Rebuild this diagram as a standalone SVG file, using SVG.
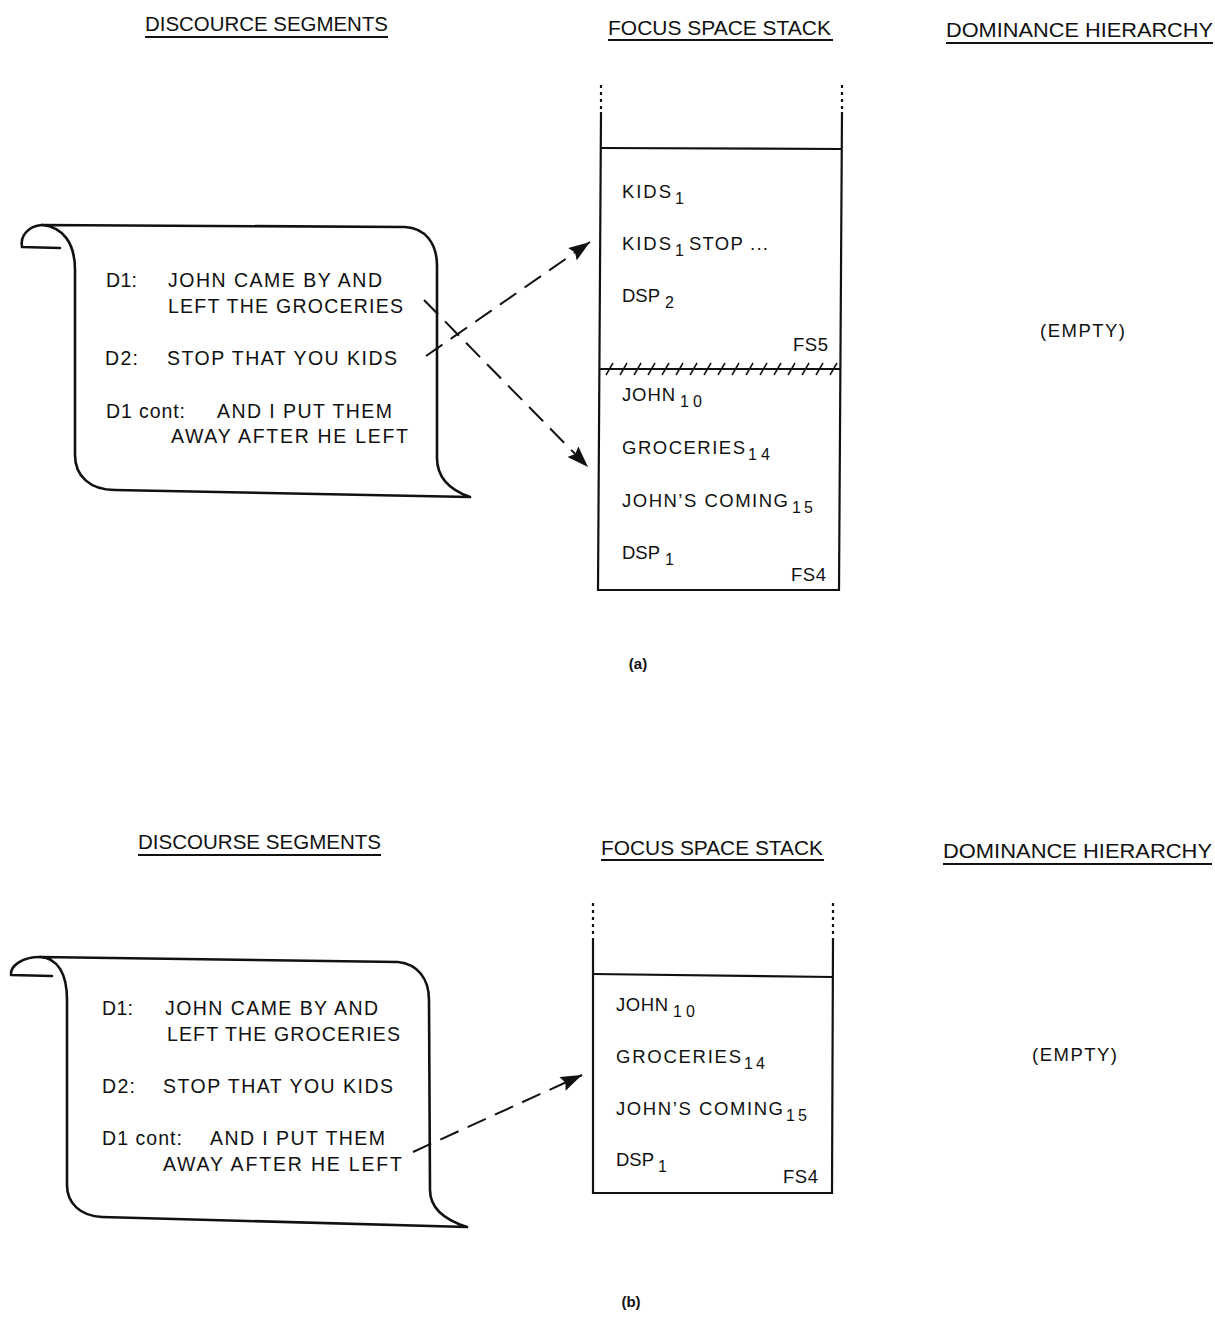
<svg xmlns="http://www.w3.org/2000/svg" width="1215" height="1318" viewBox="0 0 1215 1318">
<style>
text{font-family:"Liberation Sans",Arial,sans-serif;fill:#111}
.h{font-size:20.5px}
.s{font-size:19.5px}
.t{font-size:18.5px}
.sub{font-size:16px}
.lbl{font-size:15px;font-weight:bold}
.ul{stroke:#111;stroke-width:2}
.scroll{fill:none;stroke:#111;stroke-width:2.6;stroke-linejoin:round;stroke-linecap:round}
.wall{stroke:#111;stroke-width:2.2;fill:none}
.dots{stroke:#111;stroke-width:2.2;stroke-dasharray:3 4}
.hatch{stroke:#111;stroke-width:1.5}
.conn{stroke:#111;stroke-width:2;fill:none;stroke-dasharray:20 10}
</style>
<defs>
<marker id="ah" viewBox="0 0 20 14" refX="20" refY="7" markerWidth="22" markerHeight="15" markerUnits="userSpaceOnUse" orient="auto">
<path d="M0,0 L20,7 L0,14 L3,7 z" fill="#111"/>
</marker>
</defs>

<!-- ===== (a) ===== -->
<g id="headers-a">
<text class="h" x="145" y="31" textLength="243" lengthAdjust="spacingAndGlyphs">DISCOURCE SEGMENTS</text>
<line class="ul" x1="145" y1="37" x2="388" y2="37"/>
<text class="h" x="608" y="35" textLength="223" lengthAdjust="spacingAndGlyphs">FOCUS SPACE STACK</text>
<line class="ul" x1="608" y1="40" x2="833" y2="40"/>
<text class="h" x="946" y="37" textLength="267" lengthAdjust="spacingAndGlyphs">DOMINANCE HIERARCHY</text>
<line class="ul" x1="946" y1="43" x2="1213" y2="43"/>
</g>

<g id="scroll-a">
<path class="scroll" d="M42 225 L405 227 C425 228 437 243 437 266 L437 458 C437 478 450 490 470 497 L115 490 C90 490 75 476 75 455 L75 270 C75 243 63 227 42 225 Z"/>
<path class="scroll" d="M42 225 C28 226 20 236 22 247 L60 248"/>
<text class="s" x="106" y="287" textLength="31" lengthAdjust="spacing">D1:</text>
<text class="s" x="168" y="287" textLength="214" lengthAdjust="spacing">JOHN CAME BY AND</text>
<text class="s" x="168" y="313" textLength="235" lengthAdjust="spacing">LEFT THE GROCERIES</text>
<text class="s" x="105" y="365" textLength="33" lengthAdjust="spacing">D2:</text>
<text class="s" x="167" y="365" textLength="230" lengthAdjust="spacing">STOP THAT YOU KIDS</text>
<text class="s" x="106" y="418" textLength="79" lengthAdjust="spacing">D1 cont:</text>
<text class="s" x="217" y="418" textLength="175" lengthAdjust="spacing">AND I PUT THEM</text>
<text class="s" x="171" y="443" textLength="237" lengthAdjust="spacing">AWAY AFTER HE LEFT</text>
</g>

<g id="stack-a">
<line class="dots" x1="601" y1="85" x2="601" y2="112"/>
<line class="dots" x1="842" y1="85" x2="842" y2="112"/>
<path class="wall" d="M601 112 L598 590 L839 590 L842 112"/>
<line class="wall" x1="600" y1="148" x2="841" y2="149"/>
<line class="wall" x1="599" y1="369" x2="840" y2="369"/>
<g class="hatch">
<line x1="606" y1="375" x2="613" y2="363"/><line x1="620" y1="375" x2="627" y2="363"/><line x1="634" y1="375" x2="641" y2="363"/><line x1="648" y1="375" x2="655" y2="363"/><line x1="662" y1="375" x2="669" y2="363"/><line x1="676" y1="375" x2="683" y2="363"/><line x1="690" y1="375" x2="697" y2="363"/><line x1="704" y1="375" x2="711" y2="363"/><line x1="718" y1="375" x2="725" y2="363"/><line x1="732" y1="375" x2="739" y2="363"/><line x1="746" y1="375" x2="753" y2="363"/><line x1="760" y1="375" x2="767" y2="363"/><line x1="774" y1="375" x2="781" y2="363"/><line x1="788" y1="375" x2="795" y2="363"/><line x1="802" y1="375" x2="809" y2="363"/><line x1="816" y1="375" x2="823" y2="363"/><line x1="830" y1="375" x2="837" y2="363"/>
</g>
<text class="t" x="622" y="198" textLength="49" lengthAdjust="spacing">KIDS</text>
<text class="sub" x="675" y="204">1</text>
<text class="t" x="622" y="250" textLength="49" lengthAdjust="spacing">KIDS</text>
<text class="sub" x="675" y="256">1</text>
<text class="t" x="689" y="250" textLength="79" lengthAdjust="spacing">STOP ...</text>
<text class="t" x="622" y="302" textLength="38" lengthAdjust="spacing">DSP</text>
<text class="sub" x="665" y="308">2</text>
<text class="t" x="793" y="351" textLength="35" lengthAdjust="spacing">FS5</text>
<text class="t" x="622" y="401" textLength="53" lengthAdjust="spacing">JOHN</text>
<text class="sub" x="680" y="407" textLength="22" lengthAdjust="spacing">10</text>
<text class="t" x="622" y="454" textLength="123" lengthAdjust="spacing">GROCERIES</text>
<text class="sub" x="748" y="460" textLength="22" lengthAdjust="spacing">14</text>
<text class="t" x="622" y="507" textLength="166" lengthAdjust="spacing">JOHN’S COMING</text>
<text class="sub" x="792" y="513" textLength="21" lengthAdjust="spacing">15</text>
<text class="t" x="622" y="559" textLength="38" lengthAdjust="spacing">DSP</text>
<text class="sub" x="665" y="565">1</text>
<text class="t" x="791" y="581" textLength="35" lengthAdjust="spacing">FS4</text>
</g>

<g id="dominance-a">
<text class="t" x="1040" y="337" textLength="85" lengthAdjust="spacing">(EMPTY)</text>
</g>
<text class="lbl" x="638" y="669" text-anchor="middle">(a)</text>

<!-- ===== (b) ===== -->
<g id="headers-b">
<text class="h" x="138" y="849" textLength="243" lengthAdjust="spacingAndGlyphs">DISCOURSE SEGMENTS</text>
<line class="ul" x1="138" y1="855" x2="381" y2="855"/>
<text class="h" x="601" y="855" textLength="222" lengthAdjust="spacingAndGlyphs">FOCUS SPACE STACK</text>
<line class="ul" x1="601" y1="860" x2="824" y2="860"/>
<text class="h" x="943" y="858" textLength="269" lengthAdjust="spacingAndGlyphs">DOMINANCE HIERARCHY</text>
<line class="ul" x1="943" y1="864" x2="1212" y2="864"/>
</g>

<g id="scroll-b">
<path class="scroll" d="M40 957 L398 962 C417 964 429 978 429 1000 L430 1190 C430 1208 445 1220 467 1227 L102 1217 C80 1216 67 1203 67 1185 L67 1000 C67 974 58 958 40 957 Z"/>
<path class="scroll" d="M40 957 C22 957 10 966 11 975 L52 976"/>
<text class="s" x="102" y="1015" textLength="31" lengthAdjust="spacing">D1:</text>
<text class="s" x="165" y="1015" textLength="213" lengthAdjust="spacing">JOHN CAME BY AND</text>
<text class="s" x="167" y="1041" textLength="233" lengthAdjust="spacing">LEFT THE GROCERIES</text>
<text class="s" x="102" y="1093" textLength="33" lengthAdjust="spacing">D2:</text>
<text class="s" x="163" y="1093" textLength="230" lengthAdjust="spacing">STOP THAT YOU KIDS</text>
<text class="s" x="102" y="1145" textLength="80" lengthAdjust="spacing">D1 cont:</text>
<text class="s" x="210" y="1145" textLength="175" lengthAdjust="spacing">AND I PUT THEM</text>
<text class="s" x="163" y="1171" textLength="239" lengthAdjust="spacing">AWAY AFTER HE LEFT</text>
</g>

<g id="stack-b">
<line class="dots" x1="593" y1="903" x2="593" y2="938"/>
<line class="dots" x1="833" y1="903" x2="833" y2="938"/>
<path class="wall" d="M593 938 L593 1193 L832 1193 L833 938"/>
<line class="wall" x1="593" y1="974" x2="833" y2="977"/>
<text class="t" x="616" y="1011" textLength="52" lengthAdjust="spacing">JOHN</text>
<text class="sub" x="673" y="1017" textLength="22" lengthAdjust="spacing">10</text>
<text class="t" x="616" y="1063" textLength="125" lengthAdjust="spacing">GROCERIES</text>
<text class="sub" x="744" y="1069" textLength="21" lengthAdjust="spacing">14</text>
<text class="t" x="616" y="1115" textLength="167" lengthAdjust="spacing">JOHN’S COMING</text>
<text class="sub" x="786" y="1121" textLength="21" lengthAdjust="spacing">15</text>
<text class="t" x="616" y="1166" textLength="38" lengthAdjust="spacing">DSP</text>
<text class="sub" x="658" y="1172">1</text>
<text class="t" x="783" y="1183" textLength="35" lengthAdjust="spacing">FS4</text>
</g>

<g id="dominance-b">
<text class="t" x="1032" y="1061" textLength="85" lengthAdjust="spacing">(EMPTY)</text>
</g>
<text class="lbl" x="631" y="1307" text-anchor="middle">(b)</text>

<g id="connectors">
<line class="conn" x1="426" y1="356" x2="590" y2="242" marker-end="url(#ah)"/>
<line class="conn" x1="424" y1="300" x2="588" y2="467" marker-end="url(#ah)"/>
<line class="conn" x1="413" y1="1152" x2="582" y2="1075" marker-end="url(#ah)"/>
</g>
</svg>
